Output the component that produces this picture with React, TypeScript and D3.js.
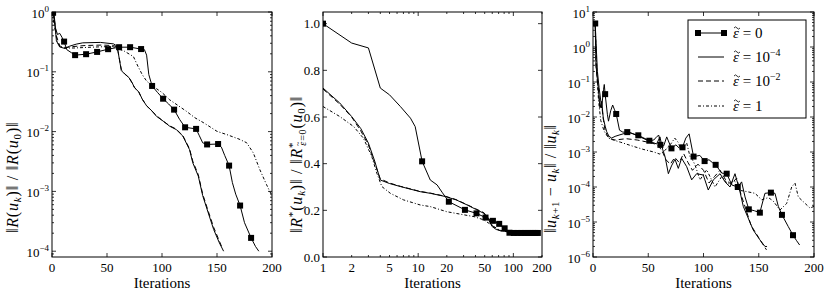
import * as d3 from 'd3'

// tick values
const ITER_TICKS = [0, 50, 100, 150, 200]
const LOGX_TICKS = [1, 2, 5, 10, 20, 50, 100, 200]
const LIN_Y_TICKS = [0, 0.2, 0.4, 0.6, 0.8, 1.0]
const P1_EXPONENTS = [0, -1, -2, -3, -4]
const P3_EXPONENTS = [1, 0, -1, -2, -3, -4, -5, -6]

const LEGEND_LABELS = ['0', '10', '10', '1']
const LEGEND_EXPS = ['', '−4', '−2', '']

// panel 1: ||R(u_k)|| / ||R(u_0)||
const P1_EPS0: [number, number][] = [
  [1, 0.97], [3, 0.55], [5, 0.42], [7, 0.44], [9, 0.38], [11, 0.32], [13.4, 0.235], [17.9, 0.207],
  [21, 0.19], [31, 0.197], [41, 0.215], [51, 0.239], [61, 0.258], [71, 0.258], [81, 0.24],
  [84, 0.235], [86, 0.19], [88, 0.09], [91, 0.058], [96, 0.045], [101, 0.0355], [106, 0.029],
  [111, 0.0233], [116, 0.016], [121, 0.0118], [131, 0.0111], [134, 0.0085], [137, 0.0065],
  [141, 0.0061], [151, 0.0062], [154, 0.0055], [157, 0.004], [161, 0.0027], [164, 0.0014],
  [167, 0.0009], [171, 0.00058], [175, 0.0003], [181, 0.000167], [185, 0.00012], [188, 0.0001],
]
const P1_EPS4: [number, number][] = [
  [0, 1], [2, 0.9], [4, 0.33], [7, 0.26], [12, 0.245], [16, 0.268], [22, 0.29], [28, 0.305],
  [44, 0.31], [56, 0.293], [59, 0.27], [60, 0.22], [63, 0.105], [66, 0.092], [70, 0.08],
  [73, 0.065], [75, 0.054], [79, 0.046], [82, 0.035], [86, 0.027], [90, 0.023], [95, 0.018],
  [101, 0.015], [107, 0.0123], [113, 0.0108], [119, 0.0084], [125, 0.005], [128, 0.003],
  [133, 0.0018], [137, 0.00085], [142, 0.00044], [147, 0.00023], [152, 0.00014], [156, 0.0001],
]
const P1_EPS2: [number, number][] = [
  [0, 1], [2, 0.8], [4, 0.4], [7, 0.27], [12, 0.255], [20, 0.265], [30, 0.275], [45, 0.28],
  [56, 0.275], [59, 0.26], [60, 0.22], [63, 0.11], [66, 0.093], [70, 0.08], [73, 0.064],
  [75, 0.055], [79, 0.045], [82, 0.035], [86, 0.027], [90, 0.023], [95, 0.0185], [101, 0.015],
  [107, 0.0125], [113, 0.011], [119, 0.0085], [125, 0.0052], [128, 0.0032], [133, 0.0019],
  [137, 0.0009], [142, 0.00047], [147, 0.00025], [152, 0.00015], [155, 0.00011],
]
const P1_EPS1: [number, number][] = [
  [0, 1], [2, 0.6], [5, 0.3], [10, 0.25], [20, 0.25], [40, 0.26], [55, 0.265], [59, 0.248],
  [66, 0.22], [74, 0.18], [78, 0.125], [82, 0.09], [86, 0.07], [92, 0.057], [100, 0.045],
  [107, 0.034], [115, 0.027], [122, 0.022], [130, 0.017], [138, 0.014], [150, 0.0101],
  [159, 0.0089], [170, 0.0075], [177, 0.0065], [183, 0.0044], [189, 0.0023], [195, 0.0013],
  [200, 0.00084],
]
const P1_MARKS = [1, 11, 21, 31, 41, 51, 61, 71, 81, 91, 101, 111, 121, 131, 141, 151, 161, 171, 181]

// panel 2: ||R*(u_k)|| / ||R*_{eps=0}(u_0)||
const P2_EPS0: [number, number][] = [
  [1, 1.0], [2, 0.917], [3, 0.896], [4, 0.724], [5, 0.695], [6.5, 0.645], [8.3, 0.595],
  [9.3, 0.559], [11, 0.41], [13.4, 0.33], [15.8, 0.309], [18, 0.275], [21, 0.237], [31, 0.202],
  [41, 0.187], [51, 0.169], [61, 0.155], [71, 0.142], [81, 0.123], [91, 0.104], [101, 0.103],
  [111, 0.103], [121, 0.103], [131, 0.103], [141, 0.103], [151, 0.103], [161, 0.103],
  [171, 0.103], [181, 0.103], [190, 0.103],
]
const P2_EPS4: [number, number][] = [
  [1, 0.724], [1.5, 0.66], [2, 0.602], [2.5, 0.55], [3, 0.488], [3.5, 0.41], [4, 0.33],
  [5, 0.315], [6.5, 0.302], [10.5, 0.28], [13.4, 0.273], [19.4, 0.259], [25, 0.245],
  [32.7, 0.223], [40, 0.205], [49, 0.187], [55, 0.159], [60, 0.13], [66, 0.118], [73.5, 0.113],
  [86.5, 0.109], [100, 0.105], [150, 0.104], [190, 0.104],
]
const P2_EPS2: [number, number][] = [
  [1, 0.72], [1.5, 0.655], [2, 0.6], [2.5, 0.54], [3, 0.48], [3.5, 0.4], [4, 0.335], [5, 0.317],
  [6.5, 0.303], [10.5, 0.281], [13.4, 0.274], [19.4, 0.26], [25, 0.246], [32.7, 0.224],
  [40, 0.207], [49, 0.19], [55, 0.165], [60, 0.135], [66, 0.12], [73.5, 0.112], [86.5, 0.108],
  [100, 0.105], [150, 0.104], [185, 0.104],
]
const P2_EPS1: [number, number][] = [
  [1, 0.645], [1.5, 0.602], [2.1, 0.559], [2.66, 0.509], [3.26, 0.43], [3.68, 0.359],
  [4.15, 0.302], [5.1, 0.273], [7, 0.245], [10.5, 0.223], [13.4, 0.216], [20, 0.194],
  [38.6, 0.173], [49, 0.159], [60, 0.135], [70, 0.118], [80, 0.11], [100, 0.105], [150, 0.104],
  [190, 0.104],
]
const P2_MARKS = P1_MARKS

// panel 3: ||u_{k+1} - u_k|| / ||u_k||
const P3_EPS0: [number, number][] = [
  [2, 4.7], [3, 0.9], [4, 0.2], [5.5, 0.07], [6.5, 0.04], [7.8, 0.018], [9.5, 0.06],
  [10.2, 0.085], [11, 0.045], [13, 0.012], [14, 0.0076], [16, 0.015], [17.8, 0.022],
  [19.5, 0.016], [21, 0.0122], [24, 0.0042], [27, 0.0037], [31, 0.0037], [41, 0.003],
  [51, 0.0021], [55, 0.0022], [58, 0.0028], [59.6, 0.003], [61, 0.0016], [64, 0.0015],
  [66.7, 0.0027], [71, 0.00127], [75, 0.0016], [78, 0.0013], [81, 0.00136], [84, 0.0025],
  [87, 0.0033], [91, 0.00074], [96.7, 0.0008], [101, 0.00055], [105, 0.0006], [108, 0.0005],
  [111, 0.00043], [116.5, 0.00025], [121, 0.00024], [125.7, 0.000114], [131, 0.0001],
  [134.5, 0.00014], [137.6, 5.2e-5], [141, 2.3e-5], [146, 2.1e-5], [151, 1.85e-5],
  [155.6, 6.6e-5], [161, 6.9e-5], [164.7, 6.6e-5], [167.7, 2.8e-5], [171, 1.6e-5],
  [176.7, 7.4e-6], [181, 4.2e-6], [184, 3e-6], [187, 2.2e-6],
]
const P3_EPS4: [number, number][] = [
  [2, 4.7], [2.7, 0.31], [4, 0.12], [4.8, 0.067], [6.3, 0.018], [7.9, 0.028], [9.3, 0.0093],
  [11, 0.0055], [12.4, 0.0038], [14.5, 0.0028], [16.9, 0.0025], [20, 0.0028], [24.4, 0.0031],
  [30, 0.0035], [33.5, 0.0036], [42.5, 0.0027], [51.6, 0.002], [57.6, 0.0017], [60.6, 0.0027],
  [63, 0.0012], [65.2, 0.00074], [68.2, 0.00024], [71, 0.0004], [74.2, 0.00062],
  [77.2, 0.00034], [80.2, 0.00066], [84.8, 0.00038], [89.3, 0.00016], [93.8, 0.00024],
  [99.8, 0.00022], [104.3, 8.2e-5], [108.9, 0.00016], [115, 0.00024], [119.5, 0.00014],
  [124, 0.0001], [128.5, 0.00024], [133, 7.4e-5], [136, 2.8e-5], [140, 1.4e-5], [145, 5.9e-6],
  [151, 3.1e-6], [155.6, 2e-6], [157.5, 2e-6],
]
const P3_EPS2: [number, number][] = [
  [2, 4.7], [2.7, 0.3], [4, 0.1], [5, 0.05], [6.3, 0.02], [8, 0.02], [9.5, 0.008], [11, 0.004],
  [13, 0.003], [15, 0.0024], [20, 0.0022], [30, 0.0024], [40, 0.0022], [50, 0.0019],
  [56, 0.0017], [60, 0.0014], [63, 0.001], [66, 0.0006], [70, 0.00045], [74, 0.0007],
  [78, 0.0005], [82, 0.0009], [86, 0.0005], [90, 0.0003], [95, 0.00045], [100, 0.0003],
  [105, 0.00013], [110, 0.0002], [115, 0.0003], [120, 0.00016], [125, 0.00012], [130, 0.00018],
  [134, 6e-5], [138, 2.5e-5], [143, 8e-6], [148, 4.5e-6], [153, 2.5e-6], [157, 1.6e-6],
]
const P3_EPS1: [number, number][] = [
  [2, 4.7], [3, 0.5], [4, 0.1], [5, 0.03], [7, 0.008], [10, 0.004], [14, 0.0025], [18.4, 0.0022],
  [25, 0.0019], [35, 0.0015], [45, 0.0012], [55, 0.001], [60.6, 0.00087], [65, 0.0011],
  [71, 0.0018], [74, 0.0025], [77, 0.0019], [80, 0.0011], [84.8, 0.0018], [87.8, 0.00074],
  [90, 0.0006], [92.3, 0.00043], [96.8, 0.00016], [102.9, 0.00031], [110.4, 0.0001],
  [116.5, 0.0002], [122, 0.00012], [128, 0.00015], [133, 8e-5], [139, 7.4e-5], [146.6, 6.6e-5],
  [152.7, 4.3e-5], [158.7, 5e-5], [163, 4e-5], [169.2, 2.2e-5], [175.3, 3.4e-5],
  [179.8, 0.0001], [182.8, 0.00013], [185.8, 5.2e-5], [190.3, 3.8e-5], [196.4, 2.5e-5],
  [200, 2.8e-5],
]
const P3_MARKS = [2, 11, 21, 31, 41, 51, 61, 71, 81, 91, 101, 111, 121, 131, 141, 151, 161, 171, 181]

const FONT = '"Liberation Serif", "DejaVu Serif", "Times New Roman", serif'
const TOP = 12
const BOTTOM = 257
const DASH = '5,3'
const DASHDOT = '3,2,1,2'

type Scale = (v: number) => number
type Series = { data: [number, number][]; dash?: string; marks?: number[] }

function supText(exp: number) {
  return exp < 0 ? '−' + -exp : String(exp)
}

function logMinors(lo: number, hi: number) {
  const out: number[] = []
  for (let d = Math.floor(Math.log10(lo)); d <= Math.ceil(Math.log10(hi)); d++) {
    for (let k = 2; k <= 9; k++) {
      const v = k * Math.pow(10, d)
      if (v > lo && v < hi) out.push(v)
    }
  }
  return out
}

function Panel({
  id, left, right, x, y, series, xMajor, xMinor = [], yMajor, yMinor = [],
}: {
  id: string; left: number; right: number; x: Scale; y: Scale; series: Series[]
  xMajor: number[]; xMinor?: number[]; yMajor: number[]; yMinor?: number[]
}) {
  const line = d3.line<[number, number]>().x((d) => x(d[0])).y((d) => y(d[1]))
  return (
    <g>
      <clipPath id={id}>
        <rect x={left} y={TOP} width={right - left} height={BOTTOM - TOP} />
      </clipPath>
      <g clipPath={`url(#${id})`}>
        {series.map((s, i) => (
          <g key={i}>
            <path d={line(s.data) || ''} fill="none" stroke="#000" strokeWidth={1}
              strokeDasharray={s.dash} />
            {s.marks &&
              s.data
                .filter((d) => s.marks!.includes(d[0]))
                .map((d, j) => (
                  <rect key={j} x={x(d[0]) - 3} y={y(d[1]) - 3} width={6} height={6} fill="#000" />
                ))}
          </g>
        ))}
      </g>
      <g stroke="#000" strokeWidth={0.8}>
        {xMajor.map((v) => (
          <g key={'xm' + v}>
            <line x1={x(v)} x2={x(v)} y1={BOTTOM} y2={BOTTOM - 4} />
            <line x1={x(v)} x2={x(v)} y1={TOP} y2={TOP + 4} />
          </g>
        ))}
        {xMinor.map((v) => (
          <g key={'xn' + v}>
            <line x1={x(v)} x2={x(v)} y1={BOTTOM} y2={BOTTOM - 2} />
            <line x1={x(v)} x2={x(v)} y1={TOP} y2={TOP + 2} />
          </g>
        ))}
        {yMajor.map((v) => (
          <g key={'ym' + v}>
            <line x1={left} x2={left + 4} y1={y(v)} y2={y(v)} />
            <line x1={right} x2={right - 4} y1={y(v)} y2={y(v)} />
          </g>
        ))}
        {yMinor.map((v) => (
          <g key={'yn' + v}>
            <line x1={left} x2={left + 2} y1={y(v)} y2={y(v)} />
            <line x1={right} x2={right - 2} y1={y(v)} y2={y(v)} />
          </g>
        ))}
      </g>
      <rect x={left} y={TOP} width={right - left} height={BOTTOM - TOP} fill="none"
        stroke="#000" strokeWidth={1} />
      <text x={(left + right) / 2} y={288} textAnchor="middle" fontSize={15}>Iterations</text>
    </g>
  )
}

function LogYLabels({ y, left, exps }: { y: Scale; left: number; exps: number[] }) {
  return (
    <g>
      {exps.map((e) => (
        <text key={e} x={left - 3} y={y(Math.pow(10, e)) + 5.5} textAnchor="end" fontSize={13}>
          10<tspan dy={-6} fontSize={9}>{supText(e)}</tspan>
        </text>
      ))}
    </g>
  )
}

function XLabels({ x, ticks }: { x: Scale; ticks: number[] }) {
  return (
    <g>
      {ticks.map((t) => (
        <text key={t} x={x(t)} y={272} textAnchor="middle" fontSize={13}>{t}</text>
      ))}
    </g>
  )
}

export default function App() {
  const x1 = d3.scaleLinear().domain([0, 200]).range([52, 272])
  const y1 = d3.scaleLog().domain([8e-5, 1]).range([BOTTOM, TOP])
  const x2 = d3.scaleLog().domain([1, 200]).range([323, 542])
  const y2 = d3.scaleLinear().domain([0, 1.05]).range([BOTTOM, TOP])
  const x3 = d3.scaleLinear().domain([0, 200]).range([593, 814])
  const y3 = d3.scaleLog().domain([1e-6, 10]).range([BOTTOM, TOP])

  const legendRows = [33, 57, 81, 106]
  const legendDash = [undefined, undefined, DASH, DASHDOT]

  return (
    <svg width={830} height={297} style={{ position: 'absolute', left: 0, top: 0, fontFamily: FONT }}>
      <rect width={830} height={297} fill="#fff" />

      <Panel id="c1" left={52} right={272} x={x1} y={y1}
        series={[
          { data: P1_EPS1, dash: DASHDOT },
          { data: P1_EPS2, dash: DASH },
          { data: P1_EPS4 },
          { data: P1_EPS0, marks: P1_MARKS },
        ]}
        xMajor={ITER_TICKS} yMajor={P1_EXPONENTS.map((e) => Math.pow(10, e))}
        yMinor={logMinors(8e-5, 1)} />
      <LogYLabels y={y1} left={52} exps={P1_EXPONENTS} />
      <XLabels x={x1} ticks={ITER_TICKS} />
      <text transform="translate(18,233) rotate(-90)" fontSize={16} letterSpacing={0.8}>
        ‖<tspan fontStyle="italic">R</tspan>(<tspan fontStyle="italic">u</tspan>
        <tspan dy={3} fontSize={11} fontStyle="italic">k</tspan>
        <tspan dy={-3}>)‖ / ‖</tspan><tspan fontStyle="italic">R</tspan>(<tspan fontStyle="italic">u</tspan>
        <tspan dy={3} fontSize={11}>0</tspan><tspan dy={-3}>)‖</tspan>
      </text>

      <Panel id="c2" left={323} right={542} x={x2} y={y2}
        series={[
          { data: P2_EPS1, dash: DASHDOT },
          { data: P2_EPS2, dash: DASH },
          { data: P2_EPS4 },
          { data: P2_EPS0, marks: P2_MARKS },
        ]}
        xMajor={[1, 10, 100]} xMinor={logMinors(1, 200).concat([200])}
        yMajor={LIN_Y_TICKS} />
      {LIN_Y_TICKS.map((t) => (
        <text key={t} x={320} y={y2(t) + 4.5} textAnchor="end" fontSize={13}>{t.toFixed(1)}</text>
      ))}
      <XLabels x={x2} ticks={LOGX_TICKS} />
      <text transform="translate(302,233) rotate(-90)" fontSize={16} letterSpacing={0.8}>
        ‖<tspan fontStyle="italic">R</tspan>
        <tspan dy={-6} fontSize={11}>*</tspan>
        <tspan dy={6}>(</tspan><tspan fontStyle="italic">u</tspan>
        <tspan dy={3} fontSize={11} fontStyle="italic">k</tspan>
        <tspan dy={-3}>)‖ / ‖</tspan><tspan fontStyle="italic">R</tspan>
        <tspan dy={-6} fontSize={11}>*</tspan>
        <tspan dx={-4} dy={10} fontSize={10} fontStyle="italic">ε</tspan>
        <tspan dx={-5} dy={-5} fontSize={8}>~</tspan>
        <tspan dy={5} fontSize={10}>=0</tspan>
        <tspan dy={-4}>(</tspan><tspan fontStyle="italic">u</tspan>
        <tspan dy={3} fontSize={11}>0</tspan><tspan dy={-3}>)‖</tspan>
      </text>

      <Panel id="c3" left={593} right={814} x={x3} y={y3}
        series={[
          { data: P3_EPS1, dash: DASHDOT },
          { data: P3_EPS2, dash: DASH },
          { data: P3_EPS4 },
          { data: P3_EPS0, marks: P3_MARKS },
        ]}
        xMajor={ITER_TICKS} yMajor={P3_EXPONENTS.map((e) => Math.pow(10, e))}
        yMinor={logMinors(1e-6, 10)} />
      <LogYLabels y={y3} left={593} exps={P3_EXPONENTS} />
      <XLabels x={x3} ticks={ITER_TICKS} />
      <text transform="translate(556,233) rotate(-90)" fontSize={16} letterSpacing={0.6}>
        ‖<tspan fontStyle="italic">u</tspan>
        <tspan dy={3} fontSize={11} fontStyle="italic">k</tspan>
        <tspan fontSize={11}>+1</tspan>
        <tspan dy={-3}> − </tspan><tspan fontStyle="italic">u</tspan>
        <tspan dy={3} fontSize={11} fontStyle="italic">k</tspan>
        <tspan dy={-3}>‖ / ‖</tspan><tspan fontStyle="italic">u</tspan>
        <tspan dy={3} fontSize={11} fontStyle="italic">k</tspan><tspan dy={-3}>‖</tspan>
      </text>

      <g>
        <rect x={688} y={20} width={118} height={98} fill="#fff" stroke="#000" strokeWidth={1} />
        {legendRows.map((ry, i) => (
          <g key={i}>
            <line x1={698} x2={724} y1={ry} y2={ry} stroke="#000" strokeWidth={1}
              strokeDasharray={legendDash[i]} />
            {i === 0 && (
              <>
                <rect x={695} y={ry - 3} width={6} height={6} fill="#000" />
                <rect x={721} y={ry - 3} width={6} height={6} fill="#000" />
              </>
            )}
            <path d={`M${734},${ry - 5} q1.5,-2.2 3,0 t3,0`} fill="none" stroke="#000"
              strokeWidth={0.8} />
            <text x={733} y={ry + 5} fontSize={15}>
              <tspan fontStyle="italic">ε</tspan> = {LEGEND_LABELS[i]}
              {LEGEND_EXPS[i] && <tspan dy={-6} fontSize={10}>{LEGEND_EXPS[i]}</tspan>}
            </text>
          </g>
        ))}
      </g>
    </svg>
  )
}
